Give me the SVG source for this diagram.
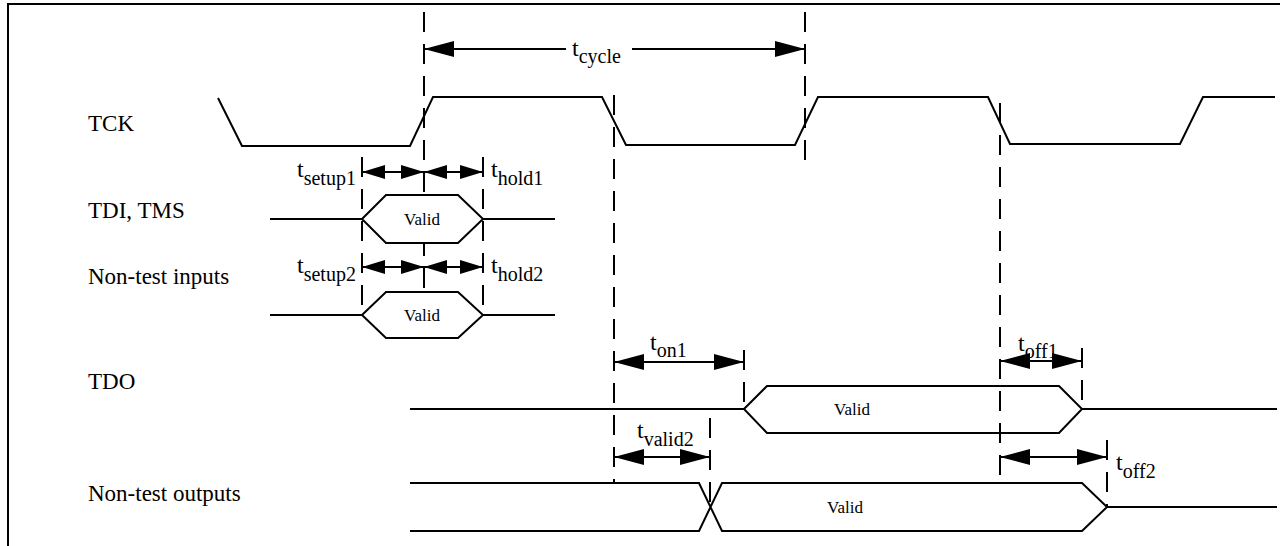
<svg xmlns="http://www.w3.org/2000/svg" width="1280" height="546" viewBox="0 0 1280 546">
<style>
.w{fill:none;stroke:#000;stroke-width:2}
.bx{fill:#fff;stroke:#000;stroke-width:2}
.bo{fill:none;stroke:#000;stroke-width:2}
.d{fill:none;stroke:#000;stroke-width:2;stroke-dasharray:20 12}
.a{fill:none;stroke:#000;stroke-width:2}
text{font-family:'Liberation Serif','DejaVu Serif','Times New Roman',serif;fill:#000}
.lbl{font-size:23px}
.t{font-size:24px}
.s{font-size:20px}
.v{font-size:17px;text-anchor:middle}
</style>
<defs>
<marker id="ah" viewBox="0 -8 30 16" refX="30" refY="0" markerWidth="30" markerHeight="16" markerUnits="userSpaceOnUse" orient="auto-start-reverse"><path d="M0,-8L30,0L0,8z"/></marker>
<marker id="as" viewBox="0 -7 23 14" refX="23" refY="0" markerWidth="23" markerHeight="14" markerUnits="userSpaceOnUse" orient="auto-start-reverse"><path d="M0,-7L23,0L0,7z"/></marker>
</defs>
<rect width="1280" height="546" fill="#fff"/>
<path class="w" d="M8,546 V4 H1280"/>
<g id="connectors">
<line class="d" x1="424" y1="12" x2="424" y2="292"/>
<line class="d" x1="805" y1="12" x2="805" y2="165"/>
<line class="d" x1="362" y1="157" x2="362" y2="315"/>
<line class="d" x1="483" y1="157" x2="483" y2="315"/>
<line class="d" x1="614" y1="95" x2="614" y2="483"/>
<line class="d" x1="1000" y1="103" x2="1000" y2="483"/>
<line class="d" x1="744" y1="350" x2="744" y2="409"/>
<line class="d" x1="1082" y1="348" x2="1082" y2="409"/>
<line class="d" x1="710" y1="418" x2="710" y2="507"/>
<line class="d" x1="1107" y1="440" x2="1107" y2="507"/>
<line class="a" x1="424" y1="49" x2="566" y2="49" marker-start="url(#ah)"/>
<line class="a" x1="632" y1="49" x2="805" y2="49" marker-end="url(#ah)"/>
<line class="a" x1="362" y1="172" x2="424" y2="172" marker-start="url(#as)" marker-end="url(#as)"/>
<line class="a" x1="424" y1="172" x2="483" y2="172" marker-start="url(#as)" marker-end="url(#as)"/>
<line class="a" x1="362" y1="267" x2="424" y2="267" marker-start="url(#as)" marker-end="url(#as)"/>
<line class="a" x1="424" y1="267" x2="483" y2="267" marker-start="url(#as)" marker-end="url(#as)"/>
<line class="a" x1="614" y1="362" x2="744" y2="362" marker-start="url(#ah)" marker-end="url(#ah)"/>
<line class="a" x1="1000" y1="361" x2="1082" y2="361" marker-start="url(#ah)" marker-end="url(#ah)"/>
<line class="a" x1="614" y1="457" x2="710" y2="457" marker-start="url(#ah)" marker-end="url(#ah)"/>
<line class="a" x1="1000" y1="457" x2="1107" y2="457" marker-start="url(#ah)" marker-end="url(#ah)"/>
<text class="t" x="572" y="56">t<tspan class="s" dy="7">cycle</tspan></text>
<text class="t" x="297" y="177">t<tspan class="s" dy="8">setup1</tspan></text>
<text class="t" x="491" y="177">t<tspan class="s" dy="8">hold1</tspan></text>
<text class="t" x="297" y="273">t<tspan class="s" dy="8">setup2</tspan></text>
<text class="t" x="491" y="273">t<tspan class="s" dy="8">hold2</tspan></text>
<text class="t" x="650" y="350">t<tspan class="s" dy="7">on1</tspan></text>
<text class="t" x="1018" y="351">t<tspan class="s" dy="7">off1</tspan></text>
<text class="t" x="637" y="438">t<tspan class="s" dy="8">valid2</tspan></text>
<text class="t" x="1116" y="470">t<tspan class="s" dy="8">off2</tspan></text>
</g>
<g id="tck">
<text class="lbl" x="88" y="131">TCK</text>
<path class="w" d="M218,98 L242,146 L410,146 L433,97 L602,97 L626,145 L795,145 L818,97 L988,97 L1010,144 L1180,144 L1203,97 L1275,97"/>
</g>
<g id="tdi">
<text class="lbl" x="88" y="218">TDI, TMS</text>
<path class="w" d="M270,219 H362 M483,219 H555"/>
<polygon class="bx" points="362,219 386,195 458,195 483,219 458,243 386,243"/>
<text class="v" x="422" y="225">Valid</text>
</g>
<g id="nti">
<text class="lbl" x="88" y="284">Non-test inputs</text>
<path class="w" d="M270,315 H362 M483,315 H555"/>
<polygon class="bx" points="362,315 386,292 458,292 483,315 458,338 386,338"/>
<text class="v" x="422" y="321">Valid</text>
</g>
<g id="tdo">
<text class="lbl" x="88" y="389">TDO</text>
<path class="w" d="M410,409 H744 M1082,409 H1277"/>
<polygon class="bo" points="744,409 767,386 1059,386 1082,409 1059,433 767,433"/>
<text class="v" x="852" y="415">Valid</text>
</g>
<g id="nto">
<text class="lbl" x="88" y="501">Non-test outputs</text>
<path class="w" d="M410,483 H699 L722,531 H1082 L1107,507 L1082,483 H722 L699,531 H410 M1107,507 H1277"/>
<text class="v" x="845" y="513">Valid</text>
</g>
</svg>
